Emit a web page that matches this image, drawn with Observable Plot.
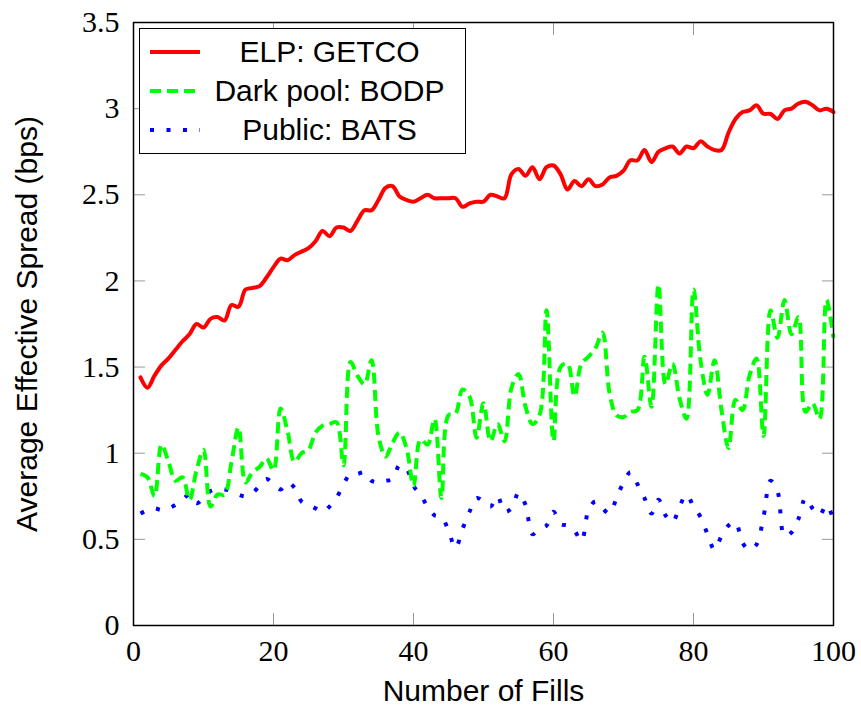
<!DOCTYPE html>
<html>
<head>
<meta charset="utf-8">
<script src="https://cdn.jsdelivr.net/npm/d3@7"></script>
<script src="https://cdn.jsdelivr.net/npm/@observablehq/plot@0.6"></script>
<style>
  html, body { margin: 0; padding: 0; background: #fff; }
  #wrap { position: relative; width: 861px; height: 710px; }
  #legend {
    position: absolute; left: 139px; top: 28px; width: 327px; height: 126px;
    border: 1px solid #000; background: #fff; box-sizing: border-box;
    font-family: "Liberation Sans", Arial, sans-serif; font-size: 30px; color: #000;
    padding-top: 3px;
  }
  .row { display: flex; align-items: center; height: 39px; }
  .row svg { margin-left: 10px; flex: none; }
  .row span { flex: 1; text-align: center; padding-right: 6px; white-space: nowrap; }
</style>
</head>
<body>
<div id="wrap"></div>
<script>
const fills = d3.range(1, 101);

const elpGetco = [1.44,1.38,1.45,1.51,1.55,1.60,1.65,1.69,1.75,1.73,
  1.78,1.79,1.77,1.86,1.85,1.95,1.96,1.97,2.02,2.08,
  2.13,2.12,2.15,2.17,2.19,2.23,2.29,2.26,2.31,2.31,
  2.29,2.35,2.41,2.41,2.47,2.54,2.55,2.49,2.47,2.46,
  2.48,2.50,2.48,2.48,2.48,2.48,2.43,2.45,2.46,2.46,
  2.50,2.49,2.48,2.62,2.65,2.61,2.66,2.59,2.66,2.67,
  2.62,2.53,2.58,2.55,2.59,2.55,2.56,2.60,2.61,2.64,
  2.70,2.70,2.76,2.69,2.75,2.77,2.78,2.74,2.78,2.77,
  2.81,2.78,2.76,2.76,2.86,2.94,2.98,2.99,3.02,2.97,
  2.97,2.94,2.99,3.00,3.03,3.04,3.02,2.99,3.00,2.98];

const darkBodp = [0.88,0.86,0.75,1.05,0.95,0.84,0.86,0.73,0.90,1.02,
  0.69,0.76,0.76,0.95,1.15,0.83,0.89,0.92,0.97,0.90,
  1.26,1.13,0.95,1.00,1.02,1.12,1.16,1.17,1.18,0.93,
  1.53,1.45,1.40,1.54,1.10,0.98,1.06,1.12,1.03,0.81,
  1.08,1.05,1.20,0.74,1.22,1.23,1.37,1.33,1.09,1.29,
  1.07,1.17,1.07,1.38,1.46,1.27,1.17,1.22,1.83,1.07,
  1.50,1.52,1.33,1.52,1.56,1.61,1.70,1.35,1.22,1.21,
  1.24,1.25,1.56,1.27,1.98,1.40,1.52,1.32,1.20,1.95,
  1.54,1.34,1.54,1.25,1.03,1.31,1.25,1.45,1.55,1.10,
  1.83,1.67,1.89,1.69,1.79,1.24,1.29,1.20,1.89,1.67];

const publicBats = [0.65,0.67,0.68,0.67,0.68,0.70,0.73,0.76,0.71,0.74,
  0.78,0.79,0.79,0.78,0.76,0.75,0.77,0.81,0.85,0.82,
  0.79,0.83,0.80,0.72,0.70,0.68,0.66,0.69,0.74,0.82,
  0.88,0.88,0.89,0.84,0.83,0.84,0.85,0.93,0.91,0.81,
  0.76,0.69,0.64,0.63,0.55,0.45,0.56,0.66,0.74,0.72,
  0.69,0.75,0.66,0.68,0.77,0.70,0.53,0.56,0.58,0.66,
  0.59,0.58,0.55,0.49,0.67,0.72,0.68,0.65,0.74,0.83,
  0.89,0.82,0.74,0.65,0.73,0.64,0.60,0.69,0.76,0.69,
  0.63,0.53,0.44,0.52,0.58,0.60,0.48,0.44,0.47,0.63,
  0.84,0.78,0.52,0.54,0.62,0.74,0.68,0.64,0.70,0.61];

const seriesNames = ["ELP: GETCO", "Dark pool: BODP", "Public: BATS"];
const seriesColors = ["#ff0000", "#00ff00", "#0000ff"];
const xTicks = [0, 20, 40, 60, 80, 100];
const yTicks = [0, 0.5, 1, 1.5, 2, 2.5, 3, 3.5];

const mk = (vals) => fills.map((f, i) => ({fill: f, value: vals[i]}));
const dElp = mk(elpGetco), dDark = mk(darkBodp), dPub = mk(publicBats);

const serif = "'Liberation Serif', 'Times New Roman', serif";
const sans = "'Liberation Sans', Arial, sans-serif";

const chart = Plot.plot({
  width: 861,
  height: 710,
  marginLeft: 133,
  marginRight: 28,
  marginTop: 22,
  marginBottom: 85,
  style: {fontFamily: serif, fontSize: "30px", background: "#fff", color: "#000"},
  x: {domain: [0, 100], label: null},
  y: {domain: [0, 3.5], label: null},
  marks: [
    // inward ticks on all four sides
    Plot.axisX(xTicks, {anchor: "bottom", tickSize: -12, tickFormat: () => "", stroke: "#999"}),
    Plot.axisX(xTicks, {anchor: "top", tickSize: -12, tickFormat: () => "", stroke: "#999"}),
    Plot.axisY(yTicks, {anchor: "left", tickSize: -12, tickFormat: () => "", stroke: "#999"}),
    Plot.axisY(yTicks, {anchor: "right", tickSize: -12, tickFormat: () => "", stroke: "#999"}),
    // tick labels
    Plot.axisX(xTicks, {anchor: "bottom", tickSize: 0, tickPadding: 14, fontSize: 30, fontFamily: serif,
      label: "Number of Fills", labelAnchor: "center", labelArrow: "none", labelOffset: 75}),
    Plot.axisY(yTicks, {anchor: "left", tickSize: 0, tickPadding: 14, fontSize: 30, fontFamily: serif,
      tickFormat: d => String(d),
      label: "Average Effective Spread (bps)", labelAnchor: "center", labelArrow: "none", labelOffset: 118}),
    Plot.line(dPub, {x: "fill", y: "value", stroke: seriesColors[2], strokeWidth: 4,
      strokeDasharray: "4,12.5", strokeLinecap: "butt", curve: "catmull-rom"}),
    Plot.line(dDark, {x: "fill", y: "value", stroke: seriesColors[1], strokeWidth: 4,
      strokeDasharray: "11,6", strokeLinecap: "butt", curve: "catmull-rom"}),
    Plot.line(dElp, {x: "fill", y: "value", stroke: seriesColors[0], strokeWidth: 4,
      curve: "catmull-rom"}),
    Plot.frame({stroke: "#000", strokeWidth: 1.5})
  ]
});

// style the axis titles as sans-serif text
d3.select(chart).selectAll("[aria-label='x-axis label'] text, [aria-label='y-axis label'] text")
  .attr("font-family", sans).attr("font-size", 30);

const wrap = document.getElementById("wrap");
wrap.appendChild(chart);

// legend
const legend = document.createElement("div");
legend.id = "legend";
const dashes = [null, "11,6", "4,12.5"];
seriesNames.forEach((name, i) => {
  const row = document.createElement("div");
  row.className = "row";
  const s = d3.create("svg").attr("width", 50).attr("height", 10);
  s.append("line").attr("x1", 0).attr("x2", 50).attr("y1", 5).attr("y2", 5)
    .attr("stroke", seriesColors[i]).attr("stroke-width", 4)
    .attr("stroke-dasharray", dashes[i]);
  row.appendChild(s.node());
  const t = document.createElement("span");
  t.textContent = name;
  row.appendChild(t);
  legend.appendChild(row);
});
wrap.appendChild(legend);
</script>
</body>
</html>
